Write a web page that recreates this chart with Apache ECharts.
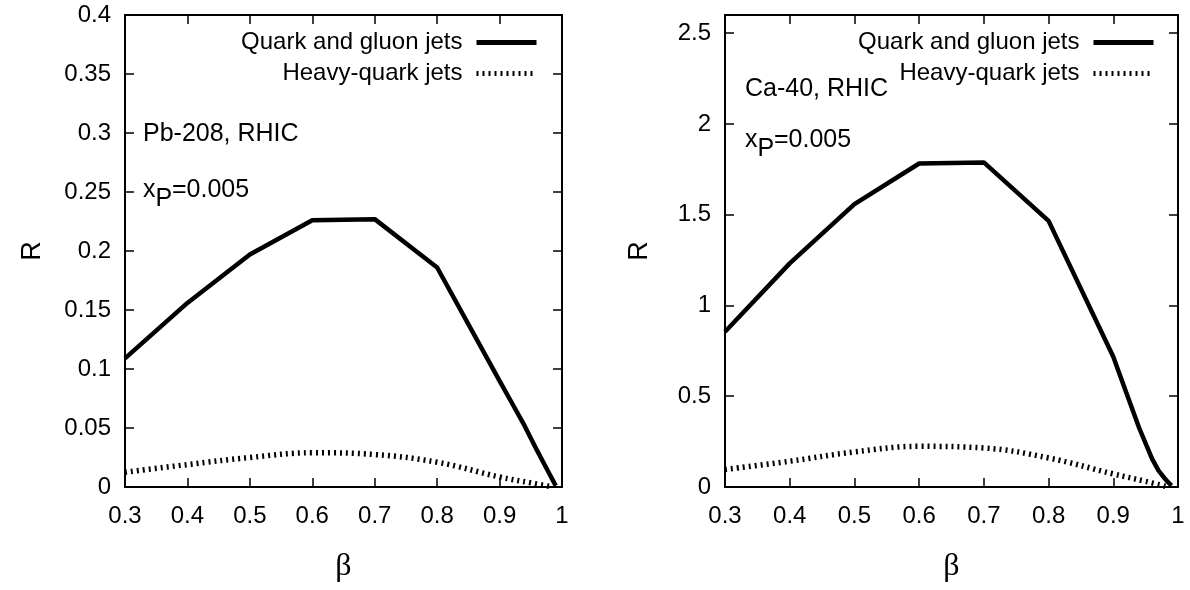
<!DOCTYPE html>
<html>
<head>
<meta charset="utf-8">
<script src="https://cdn.jsdelivr.net/npm/echarts@6/dist/echarts.min.js"></script>
<style>
html,body{margin:0;padding:0;background:#fff;}
#c{width:1190px;height:590px;}
</style>
</head>
<body>
<div id="c"></div>
<script>
// ---- data ----
var seriesNames = ['Quark and gluon jets', 'Heavy-quark jets'];

// Pb-208 (left panel)
var pbBeta = [0.3, 0.4, 0.5, 0.6, 0.7, 0.8, 0.9, 0.92, 0.94, 0.96, 0.97, 0.98, 0.985, 0.99];
var pbQuarkGluon = [0.109, 0.156, 0.197, 0.226, 0.227, 0.186, 0.090, 0.071, 0.052, 0.031, 0.021, 0.011, 0.006, 0.001];
var pbHeavyBeta = [0.3, 0.4, 0.5, 0.6, 0.7, 0.8, 0.9, 0.95, 0.985];
var pbHeavy = [0.0125, 0.019, 0.025, 0.029, 0.0275, 0.021, 0.0085, 0.0035, 0.0];

// Ca-40 (right panel)
var caBeta = [0.3, 0.4, 0.5, 0.6, 0.7, 0.8, 0.9, 0.92, 0.94, 0.96, 0.97, 0.98, 0.985, 0.99];
var caQuarkGluon = [0.855, 1.232, 1.558, 1.782, 1.788, 1.466, 0.717, 0.52, 0.325, 0.155, 0.09, 0.045, 0.025, 0.008];
var caHeavyBeta = [0.3, 0.4, 0.5, 0.6, 0.7, 0.8, 0.9, 0.95, 0.985];
var caHeavy = [0.096, 0.142, 0.193, 0.224, 0.215, 0.160, 0.072, 0.031, 0.0];

var pbYTicks = {min: 0, max: 0.4, interval: 0.05};
var caYTicks = {min: 0, max: 2.6, interval: 0.5};
var xRange = {min: 0.3, max: 1.0, interval: 0.1};

function zip(a, b) { return a.map(function (v, i) { return [v, b[i]]; }); }

var FONT = "'Liberation Sans', Arial, sans-serif";
var SERIF = "'Liberation Serif', 'DejaVu Serif', serif";

function fmt(v) { return String(+(+v).toFixed(3)); }

function xAxisPair(grid) {
  var base = {
    type: 'value', gridIndex: grid, min: xRange.min, max: xRange.max, interval: xRange.interval,
    axisLine: {onZero: false, lineStyle: {color: '#000', width: 2}},
    axisTick: {inside: true, length: 9, lineStyle: {color: '#000', width: 1.5}},
    splitLine: {show: false}
  };
  var bottom = Object.assign({}, base, {
    position: 'bottom',
    name: 'β', nameLocation: 'middle', nameGap: 64,
    nameTextStyle: {fontFamily: SERIF, fontSize: 32, color: '#000'},
    axisLabel: {fontFamily: FONT, fontSize: 24, color: '#000', margin: 17,
      formatter: function (v) { return fmt(v); }}
  });
  var top = Object.assign({}, base, {position: 'top', axisLabel: {show: false}});
  return [bottom, top];
}

function yAxisPair(grid, ticks, gap, showMax) {
  var base = {
    type: 'value', gridIndex: grid, min: ticks.min, max: ticks.max, interval: ticks.interval,
    axisLine: {onZero: false, lineStyle: {color: '#000', width: 2}},
    axisTick: {inside: true, length: 9, lineStyle: {color: '#000', width: 1.5}},
    splitLine: {show: false}
  };
  var left = Object.assign({}, base, {
    position: 'left',
    name: 'R', nameLocation: 'middle', nameRotate: 90, nameGap: gap,
    nameTextStyle: {fontFamily: FONT, fontSize: 27, color: '#000'},
    axisLabel: {fontFamily: FONT, fontSize: 24, color: '#000', margin: 14, showMaxLabel: showMax,
      formatter: function (v) { return fmt(v); }}
  });
  var right = Object.assign({}, base, {position: 'right', axisLabel: {show: false}});
  return [left, right];
}

var xa = xAxisPair(0).concat(xAxisPair(1));
var ya = yAxisPair(0, pbYTicks, 79, true).concat(yAxisPair(1, caYTicks, 72, false));

var solidStyle = {color: '#000', width: 4.5, type: 'solid'};
var dotStyle = {color: '#000', width: 5.5, type: [2, 4]};

function legendFor(right) {
  return {
    orient: 'vertical', align: 'right', right: right, top: 24,
    itemWidth: 60, itemHeight: 27, itemGap: 4,
    data: seriesNames, selectedMode: false,
    lineStyle: {width: 5},
    itemStyle: {color: 'rgba(0,0,0,0)', borderColor: 'rgba(0,0,0,0)', borderWidth: 0, opacity: 0},
    textStyle: {fontFamily: FONT, fontSize: 24, color: '#000', lineHeight: 27, padding: [0, 9, 0, 0]}
  };
}

function txt(x, y, s) {
  return {type: 'text', x: x, y: y, style: {text: s, font: '25px ' + FONT, fill: '#000', verticalAlign: 'middle'}};
}

var option = {
  animation: false,
  backgroundColor: '#fff',
  grid: [
    {left: 125, right: 628, top: 15, bottom: 103},
    {left: 725, right: 12, top: 15, bottom: 103}
  ],
  xAxis: xa,
  yAxis: ya,
  legend: [legendFor(646), legendFor(29)],
  graphic: [
    txt(143, 134, 'Pb-208, RHIC'),
    txt(143, 190, 'x'), txt(155.5, 199, 'P'), txt(172, 190, '=0.005'),
    txt(745, 89, 'Ca-40, RHIC'),
    txt(745, 140, 'x'), txt(757.5, 149, 'P'), txt(774, 140, '=0.005')
  ],
  series: [
    {name: seriesNames[0], type: 'line', xAxisIndex: 0, yAxisIndex: 0, data: zip(pbBeta, pbQuarkGluon),
      symbol: 'none', showSymbol: false, lineStyle: solidStyle, itemStyle: {color: '#000'}},
    {name: seriesNames[1], type: 'line', xAxisIndex: 0, yAxisIndex: 0, data: zip(pbHeavyBeta, pbHeavy),
      symbol: 'none', showSymbol: false, smooth: 0.4, lineStyle: dotStyle, itemStyle: {color: '#000'}},
    {name: seriesNames[0], type: 'line', xAxisIndex: 2, yAxisIndex: 2, data: zip(caBeta, caQuarkGluon),
      symbol: 'none', showSymbol: false, lineStyle: solidStyle, itemStyle: {color: '#000'}},
    {name: seriesNames[1], type: 'line', xAxisIndex: 2, yAxisIndex: 2, data: zip(caHeavyBeta, caHeavy),
      symbol: 'none', showSymbol: false, smooth: 0.4, lineStyle: dotStyle, itemStyle: {color: '#000'}}
  ]
};

var chart = echarts.init(document.getElementById('c'), null, {renderer: 'canvas'});
chart.setOption(option);
</script>
</body>
</html>
